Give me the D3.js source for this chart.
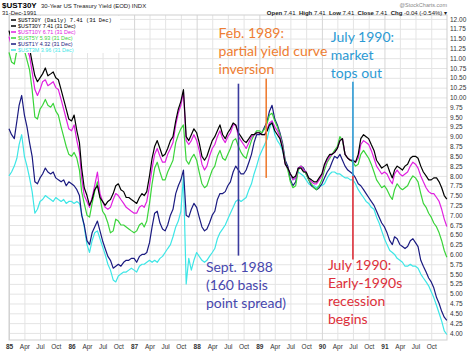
<!DOCTYPE html>
<html>
<head>
<meta charset="utf-8">
<script src="https://cdn.jsdelivr.net/npm/d3@7"></script>
<style>
    body { margin: 0; background: #fff; }
    svg { display: block; font-family: "Liberation Sans", Arial, sans-serif; }
    .note { font-family: Lato, "Open Sans", sans-serif; font-size: 14px; }
</style>
</head>
<body>
<div id="chart"></div>
<script>
// half-monthly readings (1st and 16th of each month), last value = 31 Dec 1991
const ust30y = [
    11.70, 11.45, 11.35, 11.60, 11.85, 11.90, 11.65, 11.40, 11.25, 10.90, 10.55, 10.40, 10.50, 10.60, 10.75, 10.55, 10.60, 10.65, 10.50, 10.45, 10.20, 9.95, 9.70, 9.45,
    9.40, 9.55, 9.15, 8.85, 8.20, 7.70, 7.50, 7.25, 7.40, 7.65, 7.75, 7.45, 7.35, 7.25, 7.35, 7.40, 7.55, 7.75, 7.80, 7.65, 7.60, 7.45, 7.45, 7.40,
    7.35, 7.30, 7.45, 7.55, 7.50, 7.60, 8.00, 8.45, 8.75, 8.90, 8.70, 8.50, 8.55, 8.70, 8.90, 9.00, 9.40, 9.70, 9.90, 10.20, 9.00, 8.90, 9.05, 9.20,
    9.10, 8.85, 8.50, 8.40, 8.50, 8.70, 8.90, 9.00, 9.15, 9.30, 9.05, 8.95, 9.10, 9.20, 9.35, 9.30, 9.10, 9.00, 8.90, 8.85, 8.95, 9.05, 9.05, 9.10,
    9.10, 9.05, 9.05, 9.15, 9.30, 9.35, 9.15, 9.05, 8.95, 8.70, 8.30, 8.20, 8.05, 7.95, 8.00, 8.20, 8.20, 8.10, 8.10, 7.95, 7.90, 7.85, 7.85, 7.95,
    8.05, 8.30, 8.45, 8.55, 8.55, 8.60, 8.70, 8.90, 8.95, 8.55, 8.45, 8.40, 8.40, 8.35, 8.55, 8.95, 9.05, 9.00, 8.95, 8.80, 8.65, 8.40, 8.30, 8.20,
    8.25, 8.30, 8.10, 7.95, 8.15, 8.25, 8.20, 8.15, 8.25, 8.30, 8.45, 8.50, 8.50, 8.45, 8.25, 8.10, 8.00, 7.90, 7.90, 7.95, 7.95, 7.85, 7.70, 7.50,
    7.41
];
const ust10y = [
    11.55, 11.30, 11.25, 11.50, 11.75, 11.80, 11.55, 11.25, 11.05, 10.65, 10.20, 10.05, 10.20, 10.40, 10.45, 10.30, 10.35, 10.40, 10.25, 10.20, 9.95, 9.70, 9.45, 9.20,
    9.15, 9.30, 8.90, 8.60, 7.95, 7.50, 7.35, 7.20, 7.45, 7.75, 8.10, 7.55, 7.35, 7.20, 7.15, 7.20, 7.40, 7.55, 7.50, 7.40, 7.30, 7.20, 7.15, 7.10,
    7.05, 7.05, 7.20, 7.25, 7.20, 7.35, 7.75, 8.20, 8.55, 8.70, 8.50, 8.35, 8.35, 8.55, 8.70, 8.85, 9.30, 9.60, 9.80, 10.15, 8.90, 8.80, 8.90, 9.05,
    8.90, 8.65, 8.30, 8.15, 8.25, 8.50, 8.70, 8.80, 9.00, 9.15, 8.95, 8.85, 9.00, 9.10, 9.30, 9.30, 9.00, 8.90, 8.80, 8.70, 8.85, 9.00, 9.05, 9.10,
    9.10, 9.05, 9.05, 9.20, 9.35, 9.40, 9.25, 9.15, 9.00, 8.75, 8.30, 8.20, 8.05, 7.90, 7.95, 8.20, 8.25, 8.15, 8.10, 7.95, 7.85, 7.80, 7.80, 7.90,
    8.00, 8.25, 8.40, 8.50, 8.55, 8.60, 8.70, 8.90, 8.95, 8.55, 8.45, 8.40, 8.40, 8.35, 8.45, 8.80, 8.90, 8.85, 8.80, 8.65, 8.45, 8.25, 8.15, 8.05,
    8.10, 8.05, 7.90, 7.80, 8.05, 8.15, 8.05, 8.00, 8.05, 8.10, 8.25, 8.35, 8.30, 8.20, 8.00, 7.85, 7.70, 7.60, 7.55, 7.55, 7.45, 7.35, 7.15, 6.90,
    6.71
];
const ust5y = [
    11.15, 10.90, 10.85, 11.20, 11.50, 11.60, 11.20, 10.95, 10.70, 10.20, 9.50, 9.45, 9.70, 9.80, 9.95, 9.80, 9.75, 9.85, 9.65, 9.55, 9.25, 9.00, 8.75, 8.55,
    8.50, 8.60, 8.45, 8.15, 7.60, 7.30, 7.00, 6.95, 7.30, 7.60, 7.85, 7.45, 7.10, 7.00, 6.80, 6.55, 6.60, 6.90, 6.85, 6.75, 6.75, 6.70, 6.65, 6.60,
    6.55, 6.60, 6.75, 6.80, 6.70, 6.85, 7.30, 7.80, 8.20, 8.35, 8.10, 7.90, 7.90, 8.10, 8.25, 8.40, 8.85, 9.05, 9.20, 9.30, 8.40, 8.30, 8.45, 8.55,
    8.40, 8.10, 7.80, 7.70, 7.75, 7.95, 8.15, 8.25, 8.50, 8.65, 8.45, 8.40, 8.55, 8.70, 8.90, 8.95, 8.75, 8.60, 8.50, 8.45, 8.70, 8.90, 9.05, 9.15,
    9.15, 9.10, 9.20, 9.35, 9.55, 9.60, 9.40, 9.25, 9.05, 8.80, 8.35, 8.15, 7.85, 7.70, 7.75, 8.15, 8.25, 8.15, 8.05, 7.90, 7.80, 7.70, 7.65, 7.75,
    7.90, 8.15, 8.35, 8.45, 8.55, 8.65, 8.75, 9.00, 8.90, 8.55, 8.45, 8.40, 8.35, 8.25, 8.30, 8.55, 8.65, 8.55, 8.45, 8.30, 8.10, 7.90, 7.80, 7.70,
    7.75, 7.65, 7.50, 7.40, 7.65, 7.80, 7.70, 7.65, 7.70, 7.75, 7.90, 8.00, 7.95, 7.85, 7.55, 7.30, 7.20, 7.05, 6.95, 6.80, 6.70, 6.55, 6.35, 6.10,
    5.93
];
const ust1y = [
    9.20, 9.05, 8.95, 9.40, 9.80, 10.05, 9.55, 9.25, 8.85, 8.50, 7.85, 7.80, 7.95, 8.05, 8.20, 8.10, 8.05, 8.10, 7.95, 7.90, 7.85, 7.90, 7.75, 7.85,
    7.80, 7.75, 7.65, 7.50, 7.00, 6.75, 6.35, 6.25, 6.55, 6.70, 6.85, 6.60, 6.35, 6.15, 5.95, 5.85, 5.65, 5.70, 5.75, 5.70, 5.80, 5.85, 5.85, 5.90,
    5.90, 5.80, 5.95, 6.00, 6.00, 6.05, 6.30, 6.70, 7.05, 7.10, 6.80, 6.65, 6.60, 6.75, 7.00, 7.15, 7.55, 7.75, 7.90, 8.15, 7.00, 6.95, 7.15, 7.30,
    7.20, 6.95, 6.70, 6.60, 6.65, 6.80, 7.00, 7.10, 7.40, 7.55, 7.55, 7.60, 7.75, 7.85, 8.10, 8.25, 8.15, 8.05, 8.05, 8.15, 8.35, 8.55, 8.85, 9.05,
    9.05, 9.10, 9.25, 9.40, 9.65, 9.80, 9.45, 9.30, 9.10, 8.85, 8.40, 8.25, 7.90, 7.75, 7.85, 8.20, 8.25, 8.20, 8.05, 7.90, 7.75, 7.70, 7.65, 7.70,
    7.80, 7.95, 8.10, 8.20, 8.35, 8.50, 8.45, 8.55, 8.40, 8.25, 8.15, 8.10, 8.05, 7.95, 7.80, 7.75, 7.65, 7.55, 7.45, 7.35, 7.25, 7.10, 6.95, 6.80,
    6.70, 6.55, 6.35, 6.25, 6.45, 6.40, 6.25, 6.20, 6.15, 6.20, 6.35, 6.40, 6.30, 6.20, 5.85, 5.70, 5.55, 5.40, 5.30, 5.15, 4.90, 4.75, 4.55, 4.40,
    4.32
];
const ust3m = [
    8.00, 8.10, 8.25, 8.45, 8.80, 9.05, 8.50, 8.25, 7.95, 7.60, 7.05, 7.15, 7.35, 7.40, 7.50, 7.45, 7.40, 7.35, 7.45, 7.40, 7.35, 7.40, 7.30, 7.35,
    7.35, 7.30, 7.35, 7.30, 7.05, 6.70, 6.25, 6.05, 6.35, 6.55, 6.60, 6.40, 6.20, 6.00, 5.75, 5.60, 5.35, 5.30, 5.45, 5.50, 5.55, 5.55, 5.60, 5.65,
    5.60, 5.55, 5.70, 5.75, 5.75, 5.80, 5.85, 5.80, 5.85, 5.80, 5.90, 5.95, 6.05, 6.15, 6.25, 6.45, 6.70, 6.85, 7.10, 8.00, 5.25, 5.90, 5.60, 5.85,
    6.05, 5.95, 5.85, 5.80, 5.85, 5.95, 6.05, 6.15, 6.40, 6.55, 6.65, 6.75, 6.90, 7.05, 7.20, 7.35, 7.40, 7.35, 7.40, 7.45, 7.65, 7.80, 8.05, 8.25,
    8.50, 8.65, 8.80, 8.95, 9.20, 9.40, 9.05, 8.90, 8.80, 8.65, 8.35, 8.20, 8.05, 7.90, 7.95, 8.10, 8.05, 8.00, 7.90, 7.80, 7.75, 7.75, 7.70, 7.75,
    7.75, 7.80, 7.95, 8.05, 8.10, 8.10, 8.05, 8.05, 8.00, 7.95, 7.95, 7.90, 7.90, 7.80, 7.65, 7.55, 7.45, 7.35, 7.30, 7.20, 7.15, 6.95, 6.80, 6.60,
    6.40, 6.25, 6.10, 6.05, 6.00, 5.90, 5.85, 5.80, 5.70, 5.70, 5.75, 5.70, 5.70, 5.65, 5.50, 5.40, 5.30, 5.20, 5.05, 4.90, 4.70, 4.50, 4.30, 4.05,
    3.96
];

const seriesNames = ["$UST30Y", "$UST10Y", "$UST5Y", "$UST1Y", "$UST3M"];
const seriesColors = ["#000000", "#e020e0", "#3ad43a", "#1a1a80", "#3de6e6"];
const legendLabels = ["$UST30Y 7.41 (31 Dec)", "$UST10Y 6.71 (31 Dec)", "$UST5Y 5.93 (31 Dec)", "$UST1Y 4.32 (31 Dec)", "$UST3M 3.96 (31 Dec)"];
const yTicks = d3.range(4, 12.001, 0.25);

// annotations: date of the marker line, its top / bottom value, text lines
const notes = [
    {date: "1988-09-01", top: 10.35, bottom: 5.97, color: "#4747ad", lineColor: "#3b3b9e",
        textDate: "1988-02-24", textTop: 5.56, lines: ["Sept. 1988", "(160 basis", "point spread)"]},
    {date: "1989-02-10", top: 10.48, bottom: 7.95, color: "#ee7d32", lineColor: "#ee7d32",
        textDate: "1988-05-08", textTop: 11.52, lines: ["Feb. 1989:", "partial yield curve", "inversion"]},
    {date: "1990-07-01", top: 10.40, bottom: 8.0, color: "#2c9ad4", lineColor: "#2c9ad4",
        textDate: "1990-02-22", textTop: 11.41, lines: ["July 1990:", "market", "tops out"]},
    {date: "1990-07-01", top: 8.0, bottom: 5.87, color: "#dd2f3a", lineColor: "#dd2f3a",
        textDate: "1990-02-05", textTop: 5.61, lines: ["July 1990:", "Early-1990s", "recession", "begins"]}
];

class YieldChart {
    constructor(_parentElement) {
        this.parentElement = _parentElement;
        this.initVis();
    }

    initVis() {
        let vis = this;
        vis.W = 474;
        vis.H = 352;
        vis.left = 9;
        vis.right = 447;
        vis.top = 15;
        vis.bottom = 340;

        vis.svg = d3.select("#" + vis.parentElement).append("svg")
            .attr("width", vis.W)
            .attr("height", vis.H);

        vis.x = d3.scaleTime()
            .domain([new Date(1985, 0, 1), new Date(1992, 0, 1)])
            .range([vis.left, vis.right]);
        vis.y = d3.scaleLinear()
            .domain([3.82, 12.10])
            .range([vis.bottom, vis.top]);

        vis.wrangleData();
    }

    wrangleData() {
        let vis = this;
        vis.dates = [];
        for (let m = 0; m < 84; m++) {
            vis.dates.push(new Date(1985, m, 1));
            vis.dates.push(new Date(1985, m, 16));
        }
        vis.dates.push(new Date(1991, 11, 31));

        let values = [ust30y, ust10y, ust5y, ust1y, ust3m];
        vis.series = seriesNames.map((name, i) => ({
            name: name,
            color: seriesColors[i],
            values: values[i].map((v, j) => ({date: vis.dates[j], value: v}))
        }));
        vis.updateVis();
    }

    updateVis() {
        let vis = this;
        let plotW = vis.right - vis.left;
        let plotH = vis.bottom - vis.top;
        let quarters = d3.timeMonth.every(3).range(new Date(1985, 0, 1), new Date(1992, 0, 1));

        // grid
        vis.svg.append("g")
            .attr("class", "grid")
            .attr("transform", `translate(${vis.left},0)`)
            .call(d3.axisLeft(vis.y).tickValues(yTicks).tickSize(-plotW).tickFormat(""))
            .call(g => g.select(".domain").remove())
            .call(g => g.selectAll("line").attr("stroke", "#e4e4e4"));

        vis.svg.append("g")
            .attr("class", "grid")
            .attr("transform", `translate(0,${vis.bottom})`)
            .call(d3.axisBottom(vis.x).tickValues(quarters).tickSize(-plotH).tickFormat(""))
            .call(g => g.select(".domain").remove())
            .call(g => g.selectAll("line").attr("stroke", d => d.getMonth() === 0 ? "#d6d6d6" : "#e4e4e4"));

        vis.svg.append("rect")
            .attr("x", vis.left).attr("y", vis.top)
            .attr("width", plotW).attr("height", plotH)
            .attr("fill", "none").attr("stroke", "#cfcfcf");

        // yield lines, short end first so the long bond ends up on top
        let line = d3.line()
            .x(d => vis.x(d.date))
            .y(d => vis.y(d.value));

        vis.svg.append("g")
            .selectAll("path")
            .data(vis.series.slice().reverse())
            .join("path")
            .attr("d", d => line(d.values))
            .attr("fill", "none")
            .attr("stroke", d => d.color)
            .attr("stroke-width", 1.2)
            .attr("stroke-linejoin", "round");

        // annotation markers
        notes.forEach(n => {
            let xd = vis.x(new Date(n.date));
            vis.svg.append("line")
                .attr("x1", xd).attr("x2", xd)
                .attr("y1", vis.y(n.top)).attr("y2", vis.y(n.bottom))
                .attr("stroke", n.lineColor)
                .attr("stroke-width", 1.6);

            let t = vis.svg.append("text")
                .attr("class", "note")
                .attr("fill", n.color)
                .attr("x", vis.x(new Date(n.textDate)))
                .attr("y", vis.y(n.textTop));
            n.lines.forEach((s, i) => {
                t.append("tspan")
                    .attr("x", vis.x(new Date(n.textDate)))
                    .attr("dy", i === 0 ? 0 : 18)
                    .text(s);
            });
        });

        // right axis labels
        vis.svg.append("g")
            .attr("transform", `translate(${vis.right},0)`)
            .call(d3.axisRight(vis.y).tickValues(yTicks).tickSize(0).tickPadding(3).tickFormat(d3.format(".2f")))
            .call(g => g.select(".domain").remove())
            .call(g => g.selectAll("text").attr("font-size", 6.5).attr("fill", "#333")
                .attr("font-family", "Liberation Sans, Arial, sans-serif"));

        // bottom axis labels
        vis.svg.append("g")
            .attr("transform", `translate(0,${vis.bottom})`)
            .call(d3.axisBottom(vis.x).tickValues(quarters.filter(d => d < new Date(1991, 11, 1)))
                .tickSize(0).tickPadding(4)
                .tickFormat(d => d.getMonth() === 0 ? d3.timeFormat("%y")(d) : d3.timeFormat("%b")(d)))
            .call(g => g.select(".domain").remove())
            .call(g => g.selectAll("text")
                .attr("font-size", 6.5)
                .attr("fill", "#333")
                .attr("font-family", "Liberation Sans, Arial, sans-serif")
                .attr("font-weight", d => d.getMonth() === 0 ? "bold" : "normal"));

        // header
        let head = vis.svg.append("g").attr("font-family", "Liberation Sans, Arial, sans-serif");
        head.append("text").attr("x", 2).attr("y", 8)
            .attr("font-size", 8).attr("font-weight", "bold").text("$UST30Y");
        head.append("text").attr("x", 41).attr("y", 8)
            .attr("font-size", 6).attr("fill", "#222").text("30-Year US Treasury Yield (EOD) INDX");
        head.append("text").attr("x", 2).attr("y", 14.5)
            .attr("font-size", 6).attr("fill", "#222").text("31-Dec-1991");
        head.append("text").attr("x", vis.right).attr("y", 7)
            .attr("text-anchor", "end").attr("font-size", 5.5).attr("fill", "#888").text("@StockCharts.com");

        let ohlc = head.append("text").attr("x", vis.right).attr("y", 14.5)
            .attr("text-anchor", "end").attr("font-size", 6).attr("fill", "#222");
        [["Open", " 7.41  "], ["High", " 7.41  "], ["Low", " 7.41  "], ["Close", " 7.41  "], ["Chg", " -0.04 (-0.54%) \u25BE"]]
            .forEach(p => {
                ohlc.append("tspan").attr("font-weight", "bold").text(p[0]);
                ohlc.append("tspan").attr("xml:space", "preserve").text(p[1]);
            });

        // legend
        let leg = vis.svg.append("g");
        leg.append("rect").attr("x", vis.left + 1).attr("y", vis.top + 1)
            .attr("width", 110).attr("height", 37).attr("fill", "#fff");
        leg.append("line").attr("x1", 11).attr("x2", 16).attr("y1", 20).attr("y2", 20)
            .attr("stroke", "#000").attr("stroke-width", 1.5);
        leg.append("text").attr("x", 18).attr("y", 22)
            .attr("font-family", "Liberation Mono, DejaVu Sans Mono, monospace")
            .attr("font-size", 5.4).text("$UST30Y (Daily) 7.41 (31 Dec)");
        legendLabels.forEach((s, i) => {
            let yy = 26 + i * 6;
            leg.append("line").attr("x1", 11).attr("x2", 16).attr("y1", yy).attr("y2", yy)
                .attr("stroke", seriesColors[i]).attr("stroke-width", 1.5);
            leg.append("text").attr("x", 18).attr("y", yy + 2)
                .attr("font-family", "Liberation Sans, Arial, sans-serif")
                .attr("font-size", 5.4).attr("fill", seriesColors[i]).text(s);
        });
    }
}

new YieldChart("chart");
</script>
</body>
</html>
